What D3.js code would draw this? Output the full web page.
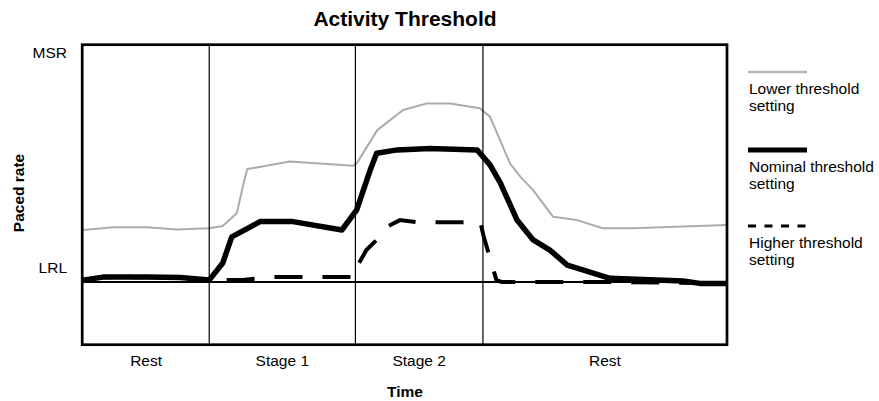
<!DOCTYPE html>
<html>
<head>
<meta charset="utf-8">
<script src="https://cdn.jsdelivr.net/npm/d3@7"></script>
<style>
  body { margin: 0; background: #fff; }
  text { font-family: "Liberation Sans", Arial, sans-serif; fill: #000; }
</style>
</head>
<body>
<div id="chart"></div>
<script>
// time runs 0..100, paced rate 0..100 (MSR = 100)
var stageBounds = [0, 19.6, 42.3, 62.1, 100];
var stageNames = ["Rest", "Stage 1", "Stage 2", "Rest"];
var yTickNames = ["MSR", "LRL"];
var yTickValues = [100, 20.7];

var lowerTime = [0, 4.7, 9.9, 14.6, 19.6, 21.7, 23.9, 24.8, 25.5, 32.1, 41.9, 42.5, 45.7, 49.7, 53.4, 57.0, 61.6, 63.2, 66.3, 67.9, 69.9, 73.0, 76.7, 80.7, 85.4, 100];
var lowerRate = [38, 38.9, 38.9, 38.2, 38.6, 39.3, 43.7, 52.3, 58.3, 60.8, 59.4, 60.2, 71.3, 78, 80.2, 80.2, 78.6, 75.8, 60.2, 55.8, 51.3, 42.4, 41.3, 38.6, 38.6, 39.7];

var nominalTime = [0, 3.1, 9.9, 15.1, 19.6, 21.7, 23.1, 27.5, 32.6, 40.2, 42.5, 44.6, 45.6, 48.8, 53.9, 61.2, 63.2, 64.8, 67.4, 69.9, 72.5, 75.2, 77.6, 81.8, 93.2, 95.8, 100];
var nominalRate = [21.3, 22.3, 22.3, 22.2, 21.3, 27, 35.7, 40.8, 40.8, 38, 44.7, 58, 63.6, 64.7, 65.2, 64.7, 59.7, 53.7, 41.3, 34.7, 31.3, 26.3, 24.7, 21.9, 21, 20.2, 20.2];

var higherTime = [0, 3.1, 15.1, 19.6, 24.8, 29, 42.3, 42.6, 44.0, 45.6, 47.2, 49.2, 52.0, 61.7, 62.2, 64.2, 65.0, 82.0, 100];
var higherRate = [21.3, 22.3, 22.2, 21.3, 21.3, 22.3, 22.3, 26, 31.3, 34.7, 39.1, 41.3, 40.6, 40.6, 36, 21.3, 20.7, 20.7, 20.2];

var legendNames = [["Lower threshold", "setting"], ["Nominal threshold", "setting"], ["Higher threshold", "setting"]];

var width = 879, height = 401;

var svg = d3.select("#chart").append("svg")
    .attr("width", width)
    .attr("height", height);

var x = d3.scaleLinear().domain([0, 100]).range([83, 727]);
var y = d3.scaleLinear().domain([0, 100]).range([344, 44]);

function toPoints(t, r) {
  return t.map(function(d, i) { return [d, r[i]]; });
}

var line = d3.line()
    .x(function(d) { return x(d[0]); })
    .y(function(d) { return y(d[1]); });

// title
svg.append("text")
  .attr("x", 405).attr("y", 26)
  .attr("text-anchor", "middle")
  .style("font-size", "21px").style("font-weight", "bold")
  .text("Activity Threshold");

// lower threshold (grey) goes under everything
svg.append("path")
  .datum(toPoints(lowerTime, lowerRate))
  .attr("d", line)
  .attr("fill", "none")
  .attr("stroke", "#ababab")
  .attr("stroke-width", 2)
  .attr("stroke-linejoin", "round");

// stage dividers
svg.selectAll(".divider").data(stageBounds.slice(1, -1)).enter().append("line")
  .attr("class", "divider")
  .attr("x1", function(d) { return x(d); }).attr("x2", function(d) { return x(d); })
  .attr("y1", y(100)).attr("y2", y(0))
  .attr("stroke", "#000").attr("stroke-width", 1.2);

// LRL baseline
svg.append("line")
  .attr("x1", x(0)).attr("x2", x(100))
  .attr("y1", y(yTickValues[1])).attr("y2", y(yTickValues[1]))
  .attr("stroke", "#000").attr("stroke-width", 2);

// higher threshold (dashed)
svg.append("path")
  .datum(toPoints(higherTime, higherRate))
  .attr("d", line)
  .attr("fill", "none")
  .attr("stroke", "#000")
  .attr("stroke-width", 4)
  .attr("stroke-dasharray", "28,20");

// nominal threshold (thick)
svg.append("path")
  .datum(toPoints(nominalTime, nominalRate))
  .attr("d", line)
  .attr("fill", "none")
  .attr("stroke", "#000")
  .attr("stroke-width", 5.5)
  .attr("stroke-linejoin", "round");

// frame
svg.append("rect")
  .attr("x", x(0) - 0.8).attr("y", y(100) + 0.7)
  .attr("width", x(100) - x(0) + 0.8).attr("height", y(0) - y(100))
  .attr("fill", "none").attr("stroke", "#000").attr("stroke-width", 2.7);

// y labels
svg.selectAll(".ylab").data(yTickNames).enter().append("text")
  .attr("class", "ylab")
  .attr("x", 67)
  .attr("y", function(d, i) { return y(yTickValues[i]) + (i == 0 ? 14 : -9); })
  .attr("text-anchor", "end")
  .style("font-size", "15.5px")
  .text(function(d) { return d; });

svg.append("text")
  .attr("transform", "translate(24,193) rotate(-90)")
  .attr("text-anchor", "middle")
  .style("font-size", "15.5px").style("font-weight", "bold")
  .text("Paced rate");

// stage labels
svg.selectAll(".stage").data(stageNames).enter().append("text")
  .attr("class", "stage")
  .attr("x", function(d, i) { return (x(stageBounds[i]) + x(stageBounds[i + 1])) / 2; })
  .attr("y", 366)
  .attr("text-anchor", "middle")
  .style("font-size", "15.5px")
  .text(function(d) { return d; });

svg.append("text")
  .attr("x", 405).attr("y", 397)
  .attr("text-anchor", "middle")
  .style("font-size", "15.5px").style("font-weight", "bold")
  .text("Time");

// legend
var legendY = [72, 150, 226];
var legendStyle = [
  {color: "#b4b4b4", w: 2.7, dash: null},
  {color: "#000", w: 5, dash: null},
  {color: "#000", w: 3, dash: "8,8.5"}
];
legendNames.forEach(function(names, i) {
  var g = svg.append("g").attr("transform", "translate(748," + legendY[i] + ")");
  g.append("line")
    .attr("x1", 0).attr("x2", 59).attr("y1", 0).attr("y2", 0)
    .attr("stroke", legendStyle[i].color)
    .attr("stroke-width", legendStyle[i].w)
    .attr("stroke-dasharray", legendStyle[i].dash);
  g.selectAll("text").data(names).enter().append("text")
    .attr("x", 1)
    .attr("y", function(d, j) { return 22 + j * 17; })
    .style("font-size", "15.5px")
    .text(function(d) { return d; });
});
</script>
</body>
</html>
